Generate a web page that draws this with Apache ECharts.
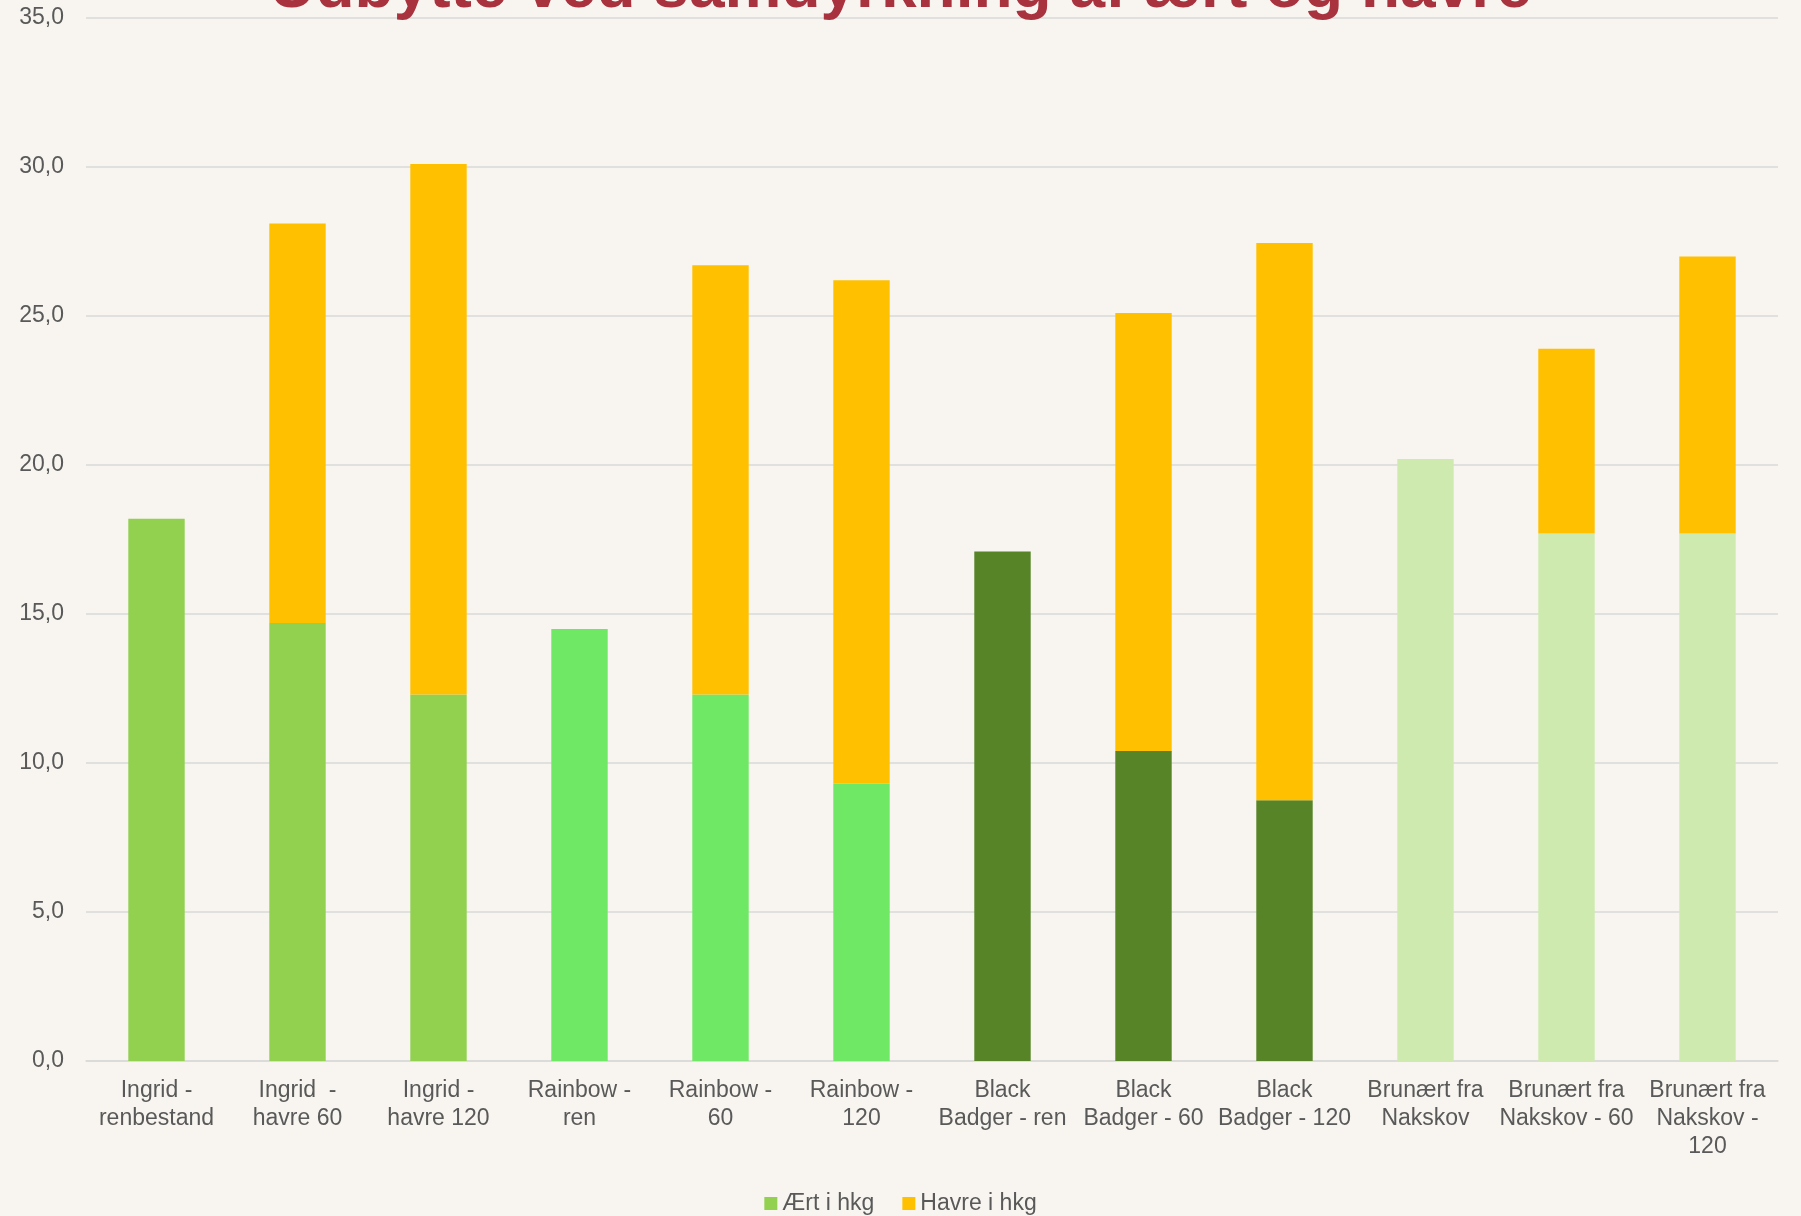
<!DOCTYPE html>
<html>
<head>
<meta charset="utf-8">
<script src="https://cdn.jsdelivr.net/npm/echarts@6/dist/echarts.min.js"></script>
<style>
html,body{margin:0;padding:0;background:#F8F5F0;}
#c{width:1801px;height:1216px;}
</style>
</head>
<body>
<div id="c"></div>
<script>
const categories = [
  "Ingrid -\nrenbestand", "Ingrid  -\nhavre 60", "Ingrid -\nhavre 120",
  "Rainbow -\nren", "Rainbow -\n60", "Rainbow -\n120",
  "Black\nBadger - ren", "Black\nBadger - 60", "Black\nBadger - 120",
  "Brunært fra\nNakskov", "Brunært fra\nNakskov - 60", "Brunært fra\nNakskov -\n120"
];
const aertValues = [18.2, 14.7, 12.3, 14.5, 12.3, 9.3, 17.1, 10.4, 8.75, 20.2, 17.7, 17.7];
const havreValues = [null, 13.4, 17.8, null, 14.4, 16.9, null, 14.7, 18.7, null, 6.2, 9.3];
const aertColors = ["#92D050", "#92D050", "#92D050", "#6FE865", "#6FE865", "#6FE865",
                    "#568426", "#568426", "#568426", "#CFEAAF", "#CFEAAF", "#CFEAAF"];
const yTicks = { min: 0, max: 35, interval: 5 };

const FONT = 'Liberation Sans, Arial, sans-serif';
const chart = echarts.init(document.getElementById('c'));
chart.setOption({
  backgroundColor: '#F8F5F0',
  animation: false,
  title: {
    text: 'Udbytte ved samdyrkning af ært og havre',
    left: 'center',
    top: -48,
    textStyle: { color: '#A8323E', fontSize: 64, fontWeight: 'bold', fontFamily: FONT }
  },
  legend: {
    bottom: -4,
    left: 'center',
    itemWidth: 13, itemHeight: 13, itemGap: 28,
    icon: 'rect',
    textStyle: { color: '#595959', fontSize: 23, fontFamily: FONT },
    data: ['Ært i hkg', 'Havre i hkg']
  },
  grid: { left: 86, right: 23, top: 18, bottom: 155, containLabel: false },
  xAxis: {
    type: 'category',
    data: categories,
    axisLine: { lineStyle: { color: '#D9D9D9', width: 1.5 } },
    axisTick: { show: false },
    axisLabel: { color: '#595959', fontSize: 23, lineHeight: 28, margin: 16, interval: 0, fontFamily: FONT }
  },
  yAxis: {
    type: 'value',
    min: yTicks.min, max: yTicks.max, interval: yTicks.interval,
    axisLine: { show: false },
    axisTick: { show: false },
    splitLine: { lineStyle: { color: '#D9D9D9', width: 1.5 } },
    axisLabel: { color: '#595959', fontSize: 23, margin: 22, fontFamily: FONT,
      formatter: v => v.toFixed(1).replace('.', ',') }
  },
  series: [
    {
      name: 'Ært i hkg', type: 'bar', stack: 'total', barWidth: '40%',
      itemStyle: { color: '#92D050' },
      data: aertValues.map((v, i) => ({ value: v, itemStyle: { color: aertColors[i] } }))
    },
    {
      name: 'Havre i hkg', type: 'bar', stack: 'total', barWidth: '40%',
      itemStyle: { color: '#FFC000' },
      data: havreValues
    }
  ]
});
</script>
</body>
</html>
